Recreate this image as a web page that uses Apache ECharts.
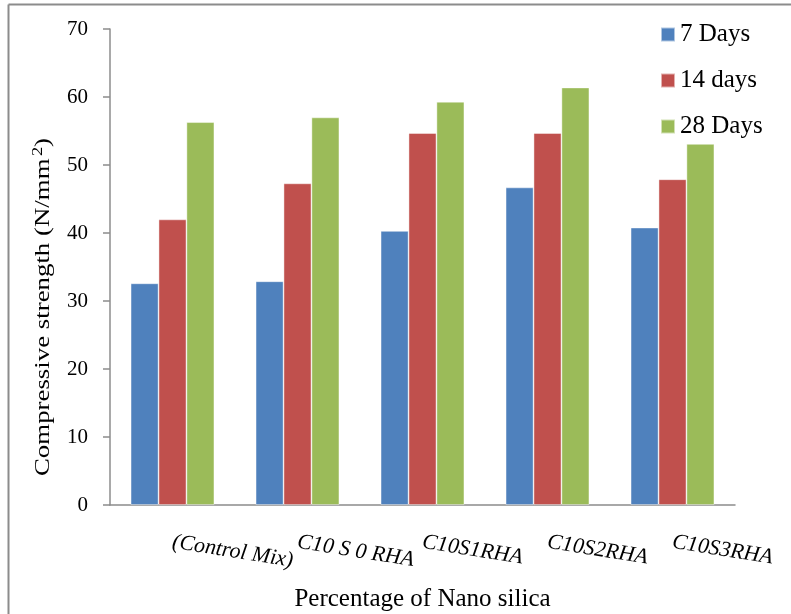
<!DOCTYPE html>
<html>
<head>
<meta charset="utf-8">
<script src="https://cdn.jsdelivr.net/npm/echarts@6/dist/echarts.min.js"></script>
<style>
  html, body { margin: 0; padding: 0; background: #fff; }
  #chart { width: 791px; height: 614px; }
</style>
</head>
<body>
<div id="chart"></div>
<script>
// Mix designations along the x axis
const mixes = ['(Control Mix)', 'C10 S 0 RHA', 'C10S1RHA', 'C10S2RHA', 'C10S3RHA'];

// Compressive strength (N/mm²) at each curing age
const days7 = [32.6, 32.9, 40.3, 46.7, 40.8];
const days14 = [42.0, 47.3, 54.7, 54.7, 47.9];
const days28 = [56.3, 57.0, 59.3, 61.4, 53.1];

const seriesNames = ['7 Days', '14 days', '28 Days'];
const yTicks = [0, 10, 20, 30, 40, 50, 60, 70];

const serif = "'Liberation Serif', 'Times New Roman', serif";
const axisGrey = '#8c8c8c';

const chart = echarts.init(document.getElementById('chart'), null, { renderer: 'canvas' });

function barSeries(name, data, color) {
  return {
    name: name,
    type: 'bar',
    data: data,
    barGap: '0%',
    barCategoryGap: '33%',
    itemStyle: { color: color, borderColor: 'rgba(255,255,255,0.55)', borderWidth: 0.8 },
    emphasis: { disabled: true }
  };
}

chart.setOption({
  animation: false,
  backgroundColor: '#fff',
  grid: { left: 110, right: 56, top: 29, bottom: 109, containLabel: false, outerBoundsMode: 'none' },
  legend: {
    orient: 'vertical',
    left: 655,
    top: 17,
    itemWidth: 14,
    itemHeight: 14,
    itemGap: 21,
    icon: 'rect',
    textStyle: { fontFamily: serif, fontSize: 25, color: '#000', lineHeight: 25 },
    data: seriesNames
  },
  xAxis: {
    type: 'category',
    data: mixes,
    name: 'Percentage of Nano silica',
    nameLocation: 'middle',
    nameGap: 82,
    nameTextStyle: { fontFamily: serif, fontSize: 25, color: '#000' },
    axisLine: { lineStyle: { color: axisGrey, width: 1.5 } },
    axisTick: { length: 7, lineStyle: { color: axisGrey, width: 1.5 } },
    axisLabel: {
      interval: 0,
      rotate: -9,
      margin: 37,
      fontFamily: serif,
      fontStyle: 'italic',
      fontSize: 22,
      color: '#000'
    }
  },
  yAxis: {
    type: 'value',
    min: 0,
    max: 70,
    interval: 10,
    axisLine: { show: true, lineStyle: { color: axisGrey, width: 1.5 } },
    axisTick: { show: true, length: 7, lineStyle: { color: axisGrey, width: 1.5 } },
    splitLine: { show: false },
    axisLabel: {
      margin: 22,
      fontFamily: serif,
      fontSize: 21,
      color: '#000',
      formatter: function (v) { return yTicks.indexOf(v) >= 0 ? String(v) : ''; }
    }
  },
  graphic: [
    // outer frame (top and left edges)
    { type: 'line', shape: { x1: 8.5, y1: 4.5, x2: 791, y2: 4.5 }, style: { stroke: axisGrey, lineWidth: 2 } },
    { type: 'line', shape: { x1: 8.5, y1: 4.5, x2: 8.5, y2: 614 }, style: { stroke: axisGrey, lineWidth: 2 } },
    {
      // y-axis title, widened along its run
      type: 'text',
      x: 43,
      y: 307,
      rotation: Math.PI / 2,
      scaleX: 1.22,
      style: {
        text: 'Compressive strength (N/mm{sup|2})',
        font: "22px 'Liberation Serif', 'Times New Roman', serif",
        fill: '#000',
        align: 'center',
        verticalAlign: 'middle',
        rich: {
          sup: { fontSize: 15, fontFamily: serif, verticalAlign: 'top', padding: [0, 0, 10, 2] }
        }
      }
    }
  ],
  series: [
    barSeries(seriesNames[0], days7, '#4F81BD'),
    barSeries(seriesNames[1], days14, '#C0504D'),
    barSeries(seriesNames[2], days28, '#9BBB59')
  ]
});
</script>
</body>
</html>
